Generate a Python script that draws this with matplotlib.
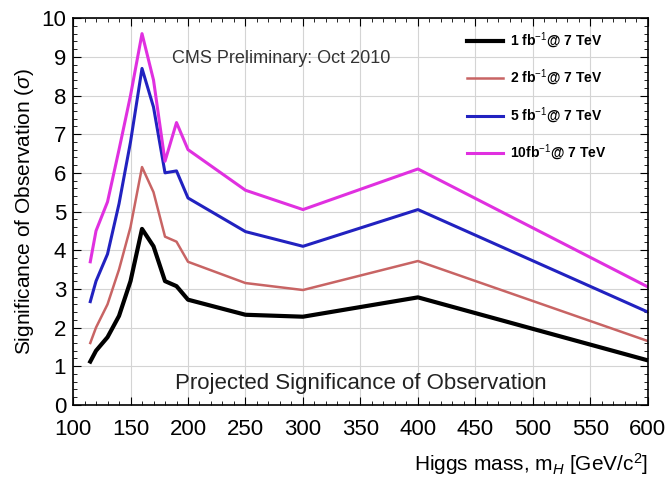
import numpy as np
import matplotlib
matplotlib.use("Agg")
import matplotlib.pyplot as plt
from matplotlib.ticker import MultipleLocator

plt.rcParams["font.family"] = ["Liberation Sans", "DejaVu Sans"]
plt.rcParams["mathtext.fontset"] = "custom"
plt.rcParams["mathtext.rm"] = "Liberation Sans"
plt.rcParams["mathtext.it"] = "Liberation Sans:italic"
plt.rcParams["mathtext.bf"] = "Liberation Sans:bold"

# Higgs mass points and significance per luminosity
masses = [115, 120, 130, 140, 150, 160, 170, 180, 190, 200, 250, 300, 400, 600]
sig_1fb = [1.12, 1.4, 1.75, 2.3, 3.2, 4.55, 4.1, 3.2, 3.07, 2.72, 2.33, 2.28, 2.78, 1.15]
sig_2fb = [1.6, 2.0, 2.6, 3.5, 4.6, 6.15, 5.5, 4.35, 4.22, 3.7, 3.15, 2.97, 3.72, 1.65]
sig_5fb = [2.67, 3.2, 3.9, 5.2, 6.8, 8.7, 7.7, 6.0, 6.05, 5.35, 4.48, 4.1, 5.05, 2.4]
sig_10fb = [3.7, 4.5, 5.25, 6.6, 8.0, 9.6, 8.4, 6.3, 7.3, 6.6, 5.55, 5.05, 6.1, 3.05]
labels = [r"1 fb$^{-1}$@ 7 TeV", r"2 fb$^{-1}$@ 7 TeV",
          r"5 fb$^{-1}$@ 7 TeV", r"10fb$^{-1}$@ 7 TeV"]

fig = plt.figure(figsize=(6.7, 4.78), dpi=100)
ax = fig.add_axes([0.109, 0.153, 0.858, 0.809])

ax.plot(masses, sig_1fb, color="black", lw=3, label=labels[0])
ax.plot(masses, sig_2fb, color="#c86464", lw=1.8, label=labels[1])
ax.plot(masses, sig_5fb, color="#2222c0", lw=2.2, label=labels[2])
ax.plot(masses, sig_10fb, color="#e030e0", lw=2.2, label=labels[3])

ax.set_xlim(100, 600)
ax.set_ylim(0, 10)
ax.xaxis.set_major_locator(MultipleLocator(50))
ax.xaxis.set_minor_locator(MultipleLocator(10))
ax.yaxis.set_major_locator(MultipleLocator(1))
ax.yaxis.set_minor_locator(MultipleLocator(0.2))
ax.tick_params(which="both", direction="in", top=True, right=True, labelsize=16)
ax.tick_params(axis="x", pad=10)
ax.tick_params(axis="y", pad=5)
ax.tick_params(which="major", length=6)
ax.tick_params(which="minor", length=3)
ax.grid(True, which="major", color="#d4d4d4", lw=0.8)
for s in ax.spines.values():
    s.set_linewidth(1.2)

ax.set_ylabel(r"Significance of Observation ($\sigma$)", fontsize=15, labelpad=4)
ax.set_xlabel(r"Higgs mass, m$_H$ [GeV/c$^2$]", fontsize=15, loc="right",
              labelpad=8)

ax.text(186, 8.95, "CMS Preliminary: Oct 2010", fontsize=13, color="#333333",
        va="center")
ax.text(350, 0.55, "Projected Significance of Observation", fontsize=16,
        ha="center", va="center", color="#222222")

leg = ax.legend(loc="upper right", bbox_to_anchor=(0.95, 1.0), frameon=False,
                prop={"weight": "bold", "size": 10}, labelspacing=1.25,
                handlelength=2.6, handletextpad=0.5, borderaxespad=0.5)

fig.savefig("out.png", dpi=100)
